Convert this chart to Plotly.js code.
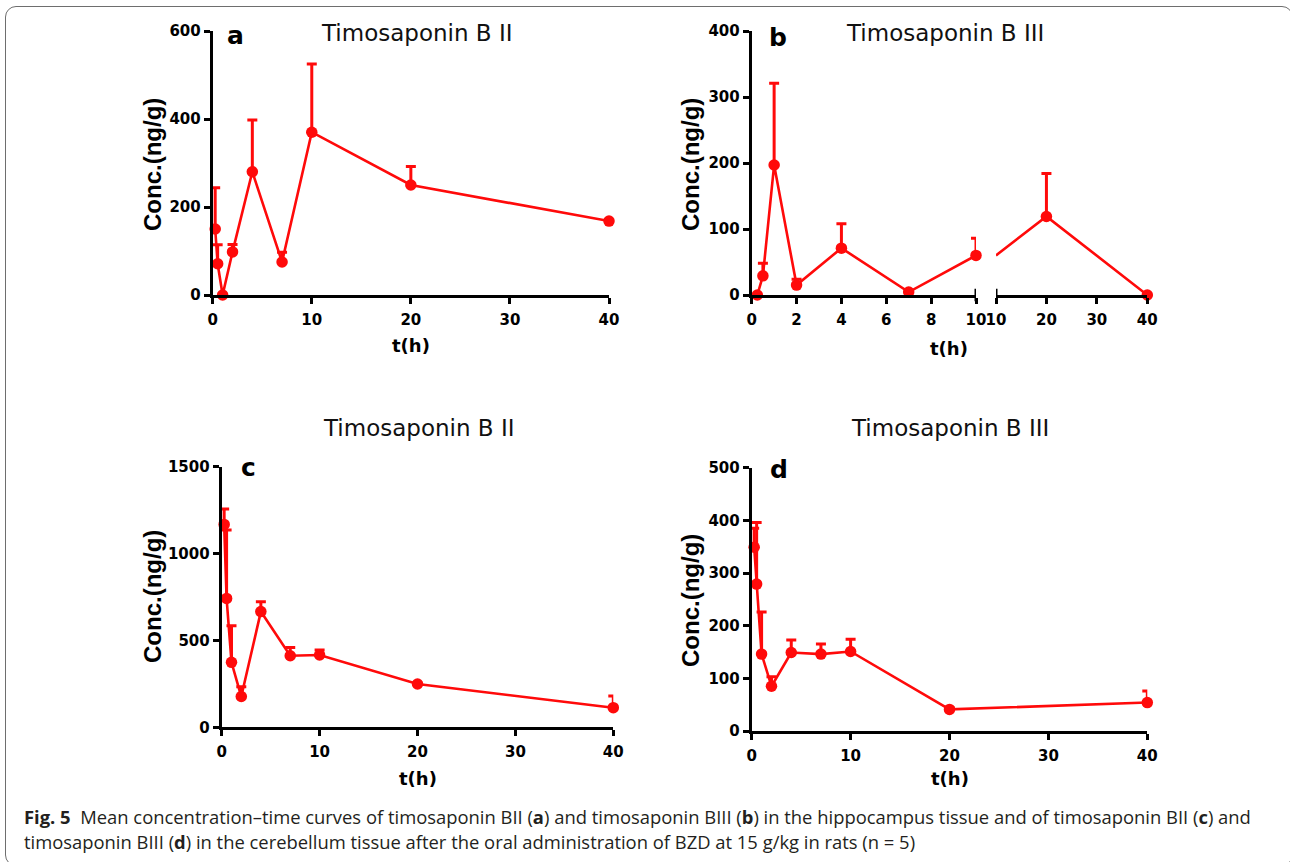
<!DOCTYPE html>
<html>
<head>
<meta charset="utf-8">
<script src="https://cdn.plot.ly/plotly-3.0.1.min.js"></script>
<style>
  html, body { margin: 0; padding: 0; background: #fff; overflow: hidden; }
  #wrap { position: relative; width: 1290px; height: 862px; overflow: hidden; }
  #chart { width: 1290px; height: 862px; }
  #frame { position: absolute; left: 5px; top: 6px; width: 1288px; height: 860px;
           border: 1.5px solid #6e6e6e; border-radius: 11px; pointer-events: none; box-sizing: border-box; }
</style>
</head>
<body>
<div id="wrap">
  <div id="chart"></div>
  <div id="frame"></div>
</div>
<script>
// ---- Data ----
const times = [0.25, 0.5, 1, 2, 4, 7, 10, 20, 40];

// a: Timosaponin B II, hippocampus
const aMean = [150, 71, 0, 98, 280, 75, 370, 250, 168];
const aErr  = [94, 43, 0, 17, 118, 22, 155, 42, 3];

// b: Timosaponin B III, hippocampus
const bMean = [0, 29, 197, 15, 71, 4.5, 60, 119, 0];
const bErr  = [0, 19, 124, 9, 37, 0, 26, 65, 0];

// c: Timosaponin B II, cerebellum
const cMean = [1168, 742, 374, 177, 666, 412, 416, 249, 113];
const cErr  = [88, 393, 211, 57, 57, 48, 29, 4, 67];

// d: Timosaponin B III, cerebellum
const dMean = [349, 279, 146, 85, 149, 146, 151, 41, 54];
const dErr  = [36, 117, 80, 18, 24, 19, 23, 3, 22];

const aTicksY = [0, 200, 400, 600];
const bTicksY = [0, 100, 200, 300, 400];
const cTicksY = [0, 500, 1000, 1500];
const dTicksY = [0, 100, 200, 300, 400, 500];
const longTicksX = [0, 10, 20, 30, 40];
const bLeftTicksX = [0, 2, 4, 6, 8, 10];
const bRightTicksX = [10, 20, 30, 40];
const bBreak = 10;

const titleB2 = 'Timosaponin B II';
const titleB3 = 'Timosaponin B III';
const yTitle = 'Conc.(ng/g)';
const xTitle = 't(h)';
const caption1 = '<b>Fig. 5</b>  Mean concentration–time curves of timosaponin BII (<b>a</b>) and timosaponin BIII (<b>b</b>) in the hippocampus tissue and of timosaponin BII (<b>c</b>) and';
const caption2 = 'timosaponin BIII (<b>d</b>) in the cerebellum tissue after the oral administration of BZD at 15 g/kg in rats (n = 5)';

// ---- Styling ----
const RED = '#ff0a0a';
const W = 1290, H = 862;
const PX = p => p / W;
const PY = p => 1 - p / H;

function series(x, y, err, xa, ya, mode) {
  const t = {
    type: 'scatter', mode: mode || 'lines+markers', x: x, y: y,
    xaxis: xa, yaxis: ya, cliponaxis: false, showlegend: false, hoverinfo: 'x+y',
    line: { color: RED, width: 2.6 },
    marker: { color: RED, size: 11.5, symbol: 'circle' }
  };
  if (err) {
    t.error_y = { type: 'data', symmetric: false, array: err,
                  arrayminus: err.map(() => 0), color: RED, thickness: 3, width: 5 };
  }
  return t;
}

const bIdxLeft = times.map((t, i) => i).filter(i => times[i] <= bBreak);
const bIdxRight = times.map((t, i) => i).filter(i => times[i] >= bBreak);
const bIdxRightPts = times.map((t, i) => i).filter(i => times[i] > bBreak);
const pick = (arr, idx) => idx.map(i => arr[i]);

const traces = [
  series(times, aMean, aErr, 'x', 'y'),
  series(pick(times, bIdxLeft), pick(bMean, bIdxLeft), pick(bErr, bIdxLeft), 'x2', 'y2'),
  series(pick(times, bIdxRight), pick(bMean, bIdxRight), null, 'x3', 'y2', 'lines'),
  series(pick(times, bIdxRightPts), pick(bMean, bIdxRightPts), pick(bErr, bIdxRightPts), 'x3', 'y2', 'markers'),
  series(times, cMean, cErr, 'x4', 'y3'),
  series(times, dMean, dErr, 'x5', 'y4')
];

const tickFont = { family: 'DejaVu Sans', size: 15, color: '#000', weight: 'bold' };
function axis(extra) {
  return Object.assign({
    showline: true, linecolor: '#000', linewidth: 3,
    ticks: 'outside', ticklen: 6, tickwidth: 3, tickcolor: '#000',
    showgrid: false, zeroline: false, tickfont: tickFont, fixedrange: true,
    tickmode: 'array'
  }, extra);
}
const xs = { ticklabelstandoff: 3 };

const layout = {
  width: W, height: H,
  margin: { l: 0, r: 0, t: 0, b: 0 },
  paper_bgcolor: '#fff', plot_bgcolor: 'rgba(0,0,0,0)',
  showlegend: false,
  xaxis:  axis(Object.assign({ domain: [PX(212.7), PX(609)], range: [0, 40], tickvals: longTicksX, anchor: 'y' }, xs)),
  yaxis:  axis({ domain: [PY(295), PY(31)], range: [0, 600], tickvals: aTicksY, anchor: 'x' }),
  xaxis2: axis(Object.assign({ domain: [PX(751.7), PX(976)], range: [0, 10], tickvals: bLeftTicksX, anchor: 'y2' }, xs)),
  xaxis3: axis(Object.assign({ domain: [PX(996), PX(1147.3)], range: [10, 40], tickvals: bRightTicksX, anchor: 'y2' }, xs)),
  yaxis2: axis({ domain: [PY(295), PY(31)], range: [0, 400], tickvals: bTicksY, anchor: 'x2' }),
  xaxis4: axis(Object.assign({ domain: [PX(221.7), PX(613.3)], range: [0, 40], tickvals: longTicksX, anchor: 'y3' }, xs)),
  yaxis3: axis({ domain: [PY(727.3), PY(466.7)], range: [0, 1500], tickvals: cTicksY, anchor: 'x4' }),
  xaxis5: axis(Object.assign({ domain: [PX(751.7), PX(1147.3)], range: [0, 40], tickvals: longTicksX, anchor: 'y4' }, xs)),
  yaxis4: axis({ domain: [PY(731), PY(467.7)], range: [0, 500], tickvals: dTicksY, anchor: 'x5' }),
  shapes: [
    { type: 'line', xref: 'x2', yref: 'y2 domain', x0: bBreak, x1: bBreak, y0: -0.024, y1: 0.024,
      line: { color: '#000', width: 3 } },
    { type: 'line', xref: 'x3', yref: 'y2 domain', x0: bBreak, x1: bBreak, y0: -0.024, y1: 0.024,
      line: { color: '#000', width: 3 } }
  ],
  annotations: []
};

function ann(text, x, y, font, extra) {
  layout.annotations.push(Object.assign({
    text: text, xref: 'paper', yref: 'paper', x: PX(x), y: PY(y),
    xanchor: 'center', yanchor: 'middle', showarrow: false, font: font
  }, extra || {}));
}

const titleFont = { family: 'DejaVu Sans', size: 23, color: '#111' };
const letterFont = { family: 'DejaVu Sans', size: 25, color: '#000', weight: 'bold' };
const yTitleFont = { family: 'Liberation Sans', size: 24, color: '#000', weight: 'bold' };
const xTitleFont = { family: 'DejaVu Sans', size: 18, color: '#000', weight: 'bold' };
const capFont = { family: 'Open Sans', size: 18.4, color: '#231f20' };

// panel titles
ann(titleB2, 417, 33, titleFont);
ann(titleB3, 945, 33, titleFont);
ann(titleB2, 418, 428, titleFont);
ann(titleB3, 950, 428, titleFont);
// panel letters
ann('a', 235, 35, letterFont);
ann('b', 778, 37, letterFont);
ann('c', 248, 467, letterFont);
ann('d', 779, 470, letterFont);
// y titles
ann(yTitle, 152, 165, yTitleFont, { textangle: -90 });
ann(yTitle, 690, 164, yTitleFont, { textangle: -90 });
ann(yTitle, 152, 597, yTitleFont, { textangle: -90 });
ann(yTitle, 690, 600, yTitleFont, { textangle: -90 });
// x titles
ann(xTitle, 411, 345, xTitleFont);
ann(xTitle, 949, 348, xTitleFont);
ann(xTitle, 418, 778, xTitleFont);
ann(xTitle, 950, 778, xTitleFont);
// caption
ann(caption1, 22, 816, capFont, { xanchor: 'left', align: 'left' });
ann(caption2, 22, 841, capFont, { xanchor: 'left', align: 'left' });

Plotly.newPlot('chart', traces, layout, { displayModeBar: false, staticPlot: true });
</script>
</body>
</html>
